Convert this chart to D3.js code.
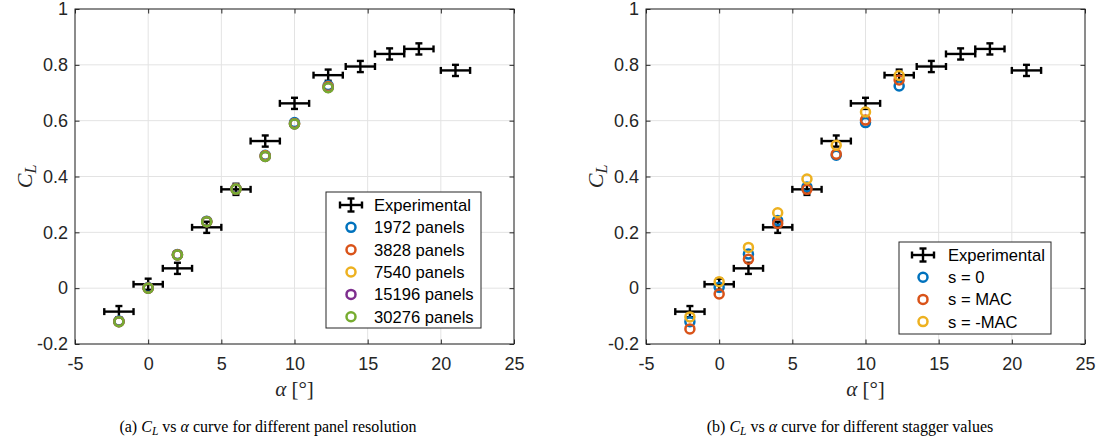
<!DOCTYPE html>
<html><head><meta charset="utf-8">
<script src="https://cdn.jsdelivr.net/npm/d3@7"></script>
<style>body{margin:0;background:#fff}svg{display:block}</style>
</head><body>
<svg id="c" width="1097" height="441"></svg>
<script>
// ---------- data ----------
const xTicks = [-5, 0, 5, 10, 15, 20, 25];
const yTicks = [-0.2, 0, 0.2, 0.4, 0.6, 0.8, 1];
const xTickLabels = ["-5", "0", "5", "10", "15", "20", "25"];
const yTickLabels = ["-0.2", "0", "0.2", "0.4", "0.6", "0.8", "1"];

const alphaExp = [-2, 0, 2, 4, 6, 8, 10, 12.3, 14.5, 16.5, 18.5, 21];
const clExp    = [-0.084, 0.014, 0.071, 0.218, 0.354, 0.527, 0.662, 0.763, 0.794, 0.839, 0.857, 0.780];
const alphaErrExp = [1, 1, 1, 1, 1, 1, 1, 1, 1, 1, 1, 1];
const clErrExp    = [0.02, 0.02, 0.02, 0.02, 0.02, 0.02, 0.02, 0.02, 0.02, 0.02, 0.02, 0.02];

const alphaSim = [-2, 0, 2, 4, 6, 8, 10, 12.3];
const cl1972  = [-0.118, 0.002, 0.121, 0.240, 0.357, 0.476, 0.593, 0.726];
const cl3828  = [-0.119, 0.001, 0.120, 0.239, 0.356, 0.474, 0.590, 0.722];
const cl7540  = [-0.120, 0.000, 0.119, 0.238, 0.355, 0.473, 0.589, 0.720];
const cl15196 = [-0.120, 0.000, 0.119, 0.238, 0.355, 0.472, 0.588, 0.719];
const cl30276 = [-0.120, 0.000, 0.119, 0.238, 0.355, 0.472, 0.588, 0.718];

const clS0      = [-0.120, 0.003, 0.122, 0.242, 0.362, 0.476, 0.593, 0.724];
const clSMAC    = [-0.146, -0.021, 0.104, 0.232, 0.354, 0.480, 0.602, 0.746];
const clSNegMAC = [-0.103, 0.023, 0.146, 0.270, 0.391, 0.512, 0.631, 0.762];

const panelNames  = ["1972 panels", "3828 panels", "7540 panels", "15196 panels", "30276 panels"];
const staggerNames = ["s = 0", "s = MAC", "s = -MAC"];
const expName = "Experimental";

// ---------- style ----------
const colors = ["#0072BD", "#D95319", "#EDB120", "#7E2F8E", "#77AC30"];
const axisColor = "#262626";
const gridColor = "#e3e3e3";
const svg = d3.select("#c");
const TOP = 9, BOTTOM = 344;
const EBW = 2.4, MR = 4.5, MW = 2.5;

function drawErrIcon(g, cx, cy) {
  const lines = [
    [cx - 11, cy, cx + 11, cy], [cx - 11, cy - 3.5, cx - 11, cy + 3.5], [cx + 11, cy - 3.5, cx + 11, cy + 3.5],
    [cx, cy - 6.5, cx, cy + 6.5], [cx - 3.5, cy - 6.5, cx + 3.5, cy - 6.5], [cx - 3.5, cy + 6.5, cx + 3.5, cy + 6.5]
  ];
  lines.forEach(l => {
    g.append("line").attr("x1", l[0]).attr("y1", l[1]).attr("x2", l[2]).attr("y2", l[3])
      .attr("stroke", "#000").attr("stroke-width", EBW);
  });
}

function panel(opt) {
  const x = d3.scaleLinear().domain([-5, 25]).range([opt.L, opt.R]);
  const y = d3.scaleLinear().domain([-0.2, 1]).range([BOTTOM, TOP]);
  const g = svg.append("g");

  // grid
  g.append("g").selectAll("line").data(xTicks).join("line")
    .attr("x1", d => x(d)).attr("x2", d => x(d)).attr("y1", TOP).attr("y2", BOTTOM)
    .attr("stroke", gridColor).attr("stroke-width", 1);
  g.append("g").selectAll("line").data(yTicks).join("line")
    .attr("y1", d => y(d)).attr("y2", d => y(d)).attr("x1", opt.L).attr("x2", opt.R)
    .attr("stroke", gridColor).attr("stroke-width", 1);

  // axes
  const fx = d => xTickLabels[xTicks.indexOf(d)];
  const fy = d => yTickLabels[yTicks.indexOf(d)];
  const styleAxis = (a, hideText) => {
    a.attr("font-family", null).attr("font-size", null);
    a.select(".domain").remove();
    a.selectAll(".tick line").attr("stroke", axisColor).attr("stroke-width", 1);
    a.selectAll(".tick text").attr("fill", axisColor)
      .style("font-family", "'Liberation Sans', Arial, Helvetica, sans-serif").style("font-size", "18px");
    if (hideText) a.selectAll(".tick text").remove();
  };
  g.append("g").attr("transform", `translate(0,${BOTTOM})`)
    .call(d3.axisBottom(x).tickValues(xTicks).tickFormat(fx).tickSizeInner(-4.5).tickSizeOuter(0).tickPadding(13))
    .call(a => styleAxis(a, false));
  g.append("g").attr("transform", `translate(0,${TOP})`)
    .call(d3.axisTop(x).tickValues(xTicks).tickSizeInner(-4.5).tickSizeOuter(0))
    .call(a => styleAxis(a, true));
  g.append("g").attr("transform", `translate(${opt.L},0)`)
    .call(d3.axisLeft(y).tickValues(yTicks).tickFormat(fy).tickSizeInner(-4.5).tickSizeOuter(0).tickPadding(7))
    .call(a => styleAxis(a, false));
  g.append("g").attr("transform", `translate(${opt.R},0)`)
    .call(d3.axisRight(y).tickValues(yTicks).tickSizeInner(-4.5).tickSizeOuter(0))
    .call(a => styleAxis(a, true));

  // experimental error bars
  const exp = alphaExp.map((a, i) => ({a, c: clExp[i], ea: alphaErrExp[i], ec: clErrExp[i]}));
  const eg = g.append("g").attr("stroke", "#000").attr("stroke-width", EBW).attr("fill", "none");
  exp.forEach(d => {
    const cx = x(d.a), cy = y(d.c), x0 = x(d.a - d.ea), x1 = x(d.a + d.ea), y0 = y(d.c - d.ec), y1 = y(d.c + d.ec);
    eg.append("line").attr("x1", x0).attr("x2", x1).attr("y1", cy).attr("y2", cy);
    eg.append("line").attr("x1", x0).attr("x2", x0).attr("y1", cy - 3.5).attr("y2", cy + 3.5);
    eg.append("line").attr("x1", x1).attr("x2", x1).attr("y1", cy - 3.5).attr("y2", cy + 3.5);
    eg.append("line").attr("x1", cx).attr("x2", cx).attr("y1", y0).attr("y2", y1);
    eg.append("line").attr("x1", cx - 3.5).attr("x2", cx + 3.5).attr("y1", y0).attr("y2", y0);
    eg.append("line").attr("x1", cx - 3.5).attr("x2", cx + 3.5).attr("y1", y1).attr("y2", y1);
  });

  // simulation series
  opt.series.forEach((vals, si) => {
    g.append("g").selectAll("circle").data(alphaSim.map((a, i) => ({a, c: vals[i]}))).join("circle")
      .attr("cx", d => x(d.a)).attr("cy", d => y(d.c)).attr("r", MR)
      .attr("fill", "none").attr("stroke", colors[si]).attr("stroke-width", MW);
  });

  // box
  g.append("rect").attr("x", opt.L).attr("y", TOP).attr("width", opt.R - opt.L).attr("height", BOTTOM - TOP)
    .attr("fill", "none").attr("stroke", axisColor).attr("stroke-width", 1);

  // axis labels
  const xm = (opt.L + opt.R) / 2;
  const xl = g.append("text").attr("x", xm).attr("y", 396).attr("text-anchor", "middle")
    .attr("fill", axisColor).style("font-family", "'Liberation Serif', 'Times New Roman', serif").style("font-size", "21px");
  xl.append("tspan").attr("font-style", "italic").text("α");
  xl.append("tspan").text(" [°]");

  const yl = g.append("text").attr("transform", `translate(${opt.L - 43},${(TOP + BOTTOM) / 2}) rotate(-90)`)
    .attr("text-anchor", "middle").attr("fill", axisColor)
    .style("font-family", "'Liberation Serif', 'Times New Roman', serif").style("font-size", "22px");
  yl.append("tspan").attr("font-style", "italic").text("C");
  yl.append("tspan").attr("font-style", "italic").attr("font-size", "16px").attr("dy", 4).text("L");

  // legend
  const lg = g.append("g");
  lg.append("rect").attr("x", opt.leg.x).attr("y", opt.leg.y).attr("width", opt.leg.w).attr("height", opt.leg.h)
    .attr("fill", "#fff").attr("stroke", axisColor).attr("stroke-width", 1);
  const names = [expName].concat(opt.names);
  names.forEach((n, i) => {
    const ry = opt.leg.y0 + i * opt.leg.dy;
    if (i === 0) drawErrIcon(lg, opt.leg.ix, ry);
    else lg.append("circle").attr("cx", opt.leg.ix).attr("cy", ry).attr("r", MR)
      .attr("fill", "none").attr("stroke", colors[i - 1]).attr("stroke-width", MW);
    lg.append("text").attr("x", opt.leg.tx).attr("y", ry + 6).attr("fill", "#000")
      .style("font-family", "'Liberation Sans', Arial, Helvetica, sans-serif").style("font-size", "16.6px").text(n);
  });

  // caption
  const cap = g.append("text").attr("x", opt.capX).attr("y", 432).attr("text-anchor", "middle").attr("fill", "#000")
    .style("font-family", "'Liberation Serif', 'Times New Roman', serif").style("font-size", "16px");
  cap.append("tspan").text(opt.capPre);
  cap.append("tspan").attr("font-style", "italic").text("C");
  cap.append("tspan").attr("font-style", "italic").attr("font-size", "11.5px").attr("dy", 3).text("L");
  cap.append("tspan").attr("dy", -3).text(" vs ");
  cap.append("tspan").attr("font-style", "italic").text("α");
  cap.append("tspan").text(opt.capPost);
}

panel({
  L: 75, R: 514,
  series: [cl1972, cl3828, cl7540, cl15196, cl30276],
  names: panelNames,
  leg: {x: 326, y: 192, w: 155, h: 136, y0: 205, dy: 22.35, ix: 351, tx: 374},
  capX: 268, capPre: "(a) ", capPost: " curve for different panel resolution"
});
panel({
  L: 646, R: 1085,
  series: [clS0, clSMAC, clSNegMAC],
  names: staggerNames,
  leg: {x: 899, y: 242, w: 152, h: 92, y0: 255, dy: 22.2, ix: 923, tx: 948},
  capX: 850, capPre: "(b) ", capPost: " curve for different stagger values"
});
</script>
</body></html>
